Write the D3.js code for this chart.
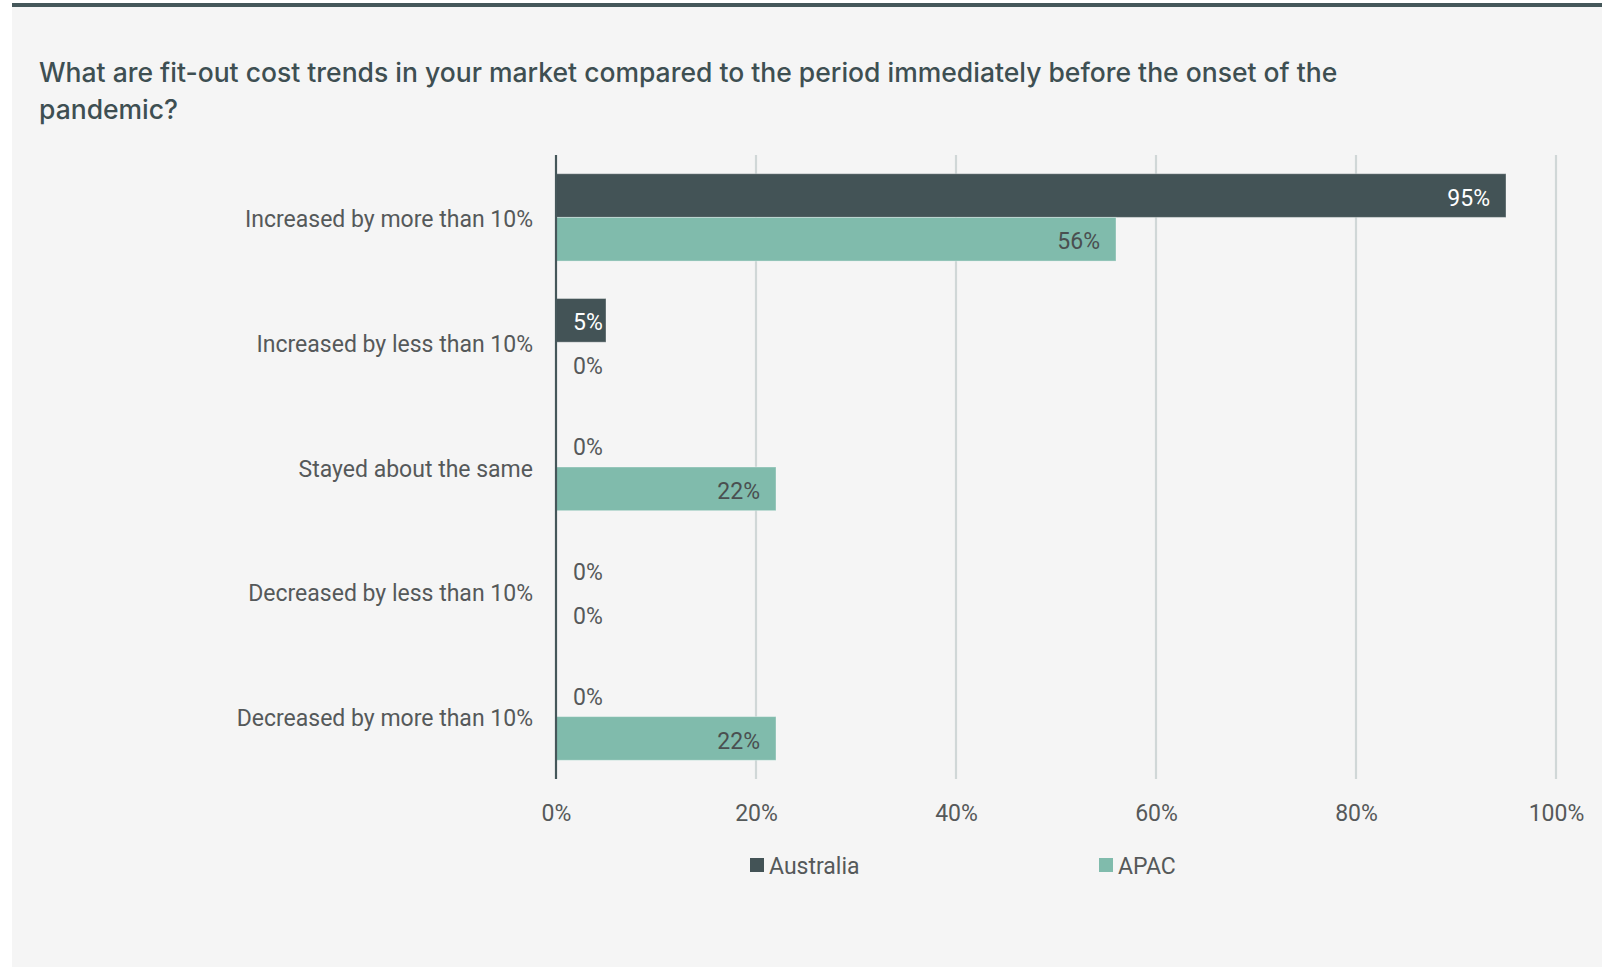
<!DOCTYPE html>
<html>
<head>
<meta charset="utf-8">
<script src="https://cdn.jsdelivr.net/npm/d3@7"></script>
<style>
  html, body { margin: 0; padding: 0; background: #ffffff; }
  svg { display: block; }
</style>
</head>
<body>
<svg id="chart" width="1606" height="967"></svg>
<script>
// Survey answers, top to bottom
const categories = [
  "Increased by more than 10%",
  "Increased by less than 10%",
  "Stayed about the same",
  "Decreased by less than 10%",
  "Decreased by more than 10%"
];
const seriesNames = ["Australia", "APAC"];
const australiaValues = [95, 5, 0, 0, 0];
const apacValues = [56, 0, 22, 0, 22];
const tickValues = [0, 20, 40, 60, 80, 100];

const colors = { Australia: "#435356", APAC: "#80bbac" };
const labelColors = { Australia: "#ffffff", APAC: "#4a4f50" };
const titleFont = "Inter, 'Noto Sans', sans-serif";
const fontFamily = "Roboto, 'Noto Sans', sans-serif";
const fontSize = 23;
const textColor = "#55595a";

const svg = d3.select("#chart");

// panel and top rule
svg.append("rect").attr("x", 12).attr("y", 3).attr("width", 1590).attr("height", 964).attr("fill", "#f5f5f5");
svg.append("rect").attr("x", 12).attr("y", 3).attr("width", 1590).attr("height", 4).attr("fill", "#45575a");

// title
const title = svg.append("text")
  .attr("font-family", titleFont)
  .attr("font-size", 26.5)
  .attr("font-weight", 500)
  .attr("fill", "#3e4f52");
title.append("tspan").attr("x", 39).attr("y", 82)
  .text("What are fit-out cost trends in your market compared to the period immediately before the onset of the");
title.append("tspan").attr("x", 39).attr("y", 119).text("pandemic?");

const plot = { left: 556, right: 1556, top: 155, bottom: 779 };

const x = d3.scaleLinear().domain([0, 100]).range([plot.left, plot.right]);
const y = d3.scaleBand().domain(categories).range([plot.top, plot.bottom])
  .paddingInner(0.3).paddingOuter(0.15);
const ySub = d3.scaleBand().domain(seriesNames).range([0, y.bandwidth()]);

// vertical gridlines
svg.append("g")
  .selectAll("line")
  .data(tickValues.filter(d => d > 0))
  .join("line")
  .attr("x1", d => x(d)).attr("x2", d => x(d))
  .attr("y1", plot.top).attr("y2", plot.bottom)
  .attr("stroke", "#d0d7d7").attr("stroke-width", 2.2);

// x axis labels
const xAxis = d3.axisBottom(x).tickValues(tickValues).tickFormat(d => d + "%").tickSize(0).tickPadding(0);
const xg = svg.append("g").attr("transform", `translate(0, ${plot.bottom})`).call(xAxis);
xg.select(".domain").remove();
xg.selectAll("text")
  .attr("y", 34).attr("dy", "0.36em")
  .attr("font-family", fontFamily).attr("font-size", fontSize).attr("fill", textColor);

// category labels
const yAxis = d3.axisLeft(y).tickSize(0).tickPadding(23);
const yg = svg.append("g").attr("transform", `translate(${plot.left}, 0)`).call(yAxis);
yg.select(".domain").remove();
yg.selectAll("text")
  .attr("dy", "0.42em")
  .attr("font-family", fontFamily).attr("font-size", fontSize).attr("fill", textColor);

// bars
const rows = categories.map((c, i) => ({
  category: c,
  values: [
    { series: "Australia", value: australiaValues[i] },
    { series: "APAC", value: apacValues[i] }
  ]
}));

const groups = svg.append("g").selectAll("g")
  .data(rows)
  .join("g")
  .attr("transform", d => `translate(0, ${y(d.category)})`);

groups.selectAll("rect")
  .data(d => d.values.filter(v => v.value > 0))
  .join("rect")
  .attr("x", x(0))
  .attr("y", d => ySub(d.series))
  .attr("width", d => x(d.value) - x(0))
  .attr("height", ySub.bandwidth())
  .attr("fill", d => colors[d.series])
  .attr("stroke", "rgba(255,255,255,0.35)")
  .attr("stroke-width", 1);

// value labels: right-aligned inside the bar, or just right of the axis when the bar is short
groups.selectAll("text")
  .data(d => d.values)
  .join("text")
  .attr("y", d => ySub(d.series) + ySub.bandwidth() / 2)
  .attr("dy", "0.44em")
  .attr("text-anchor", "end")
  .attr("font-family", fontFamily).attr("font-size", fontSize)
  .attr("fill", d => d.value > 0 ? labelColors[d.series] : textColor)
  .text(d => d.value + "%")
  .each(function(d) {
    const w = this.getComputedTextLength();
    const xPos = Math.max(x(d.value) - 16, x(0) + 17 + w);
    d3.select(this).attr("x", xPos);
  });

// zero axis line
svg.append("line")
  .attr("x1", x(0)).attr("x2", x(0))
  .attr("y1", plot.top).attr("y2", plot.bottom)
  .attr("stroke", "#45575a").attr("stroke-width", 2.2);

// legend
const legendPos = [750, 1099];
const legend = svg.append("g").selectAll("g")
  .data(seriesNames)
  .join("g")
  .attr("transform", (d, i) => `translate(${legendPos[i]}, 858)`);
legend.append("rect").attr("width", 14).attr("height", 14).attr("fill", d => colors[d]);
legend.append("text")
  .attr("x", 19).attr("y", 7).attr("dy", "0.4em")
  .attr("font-family", fontFamily).attr("font-size", fontSize).attr("fill", textColor)
  .text(d => d);
</script>
</body>
</html>
